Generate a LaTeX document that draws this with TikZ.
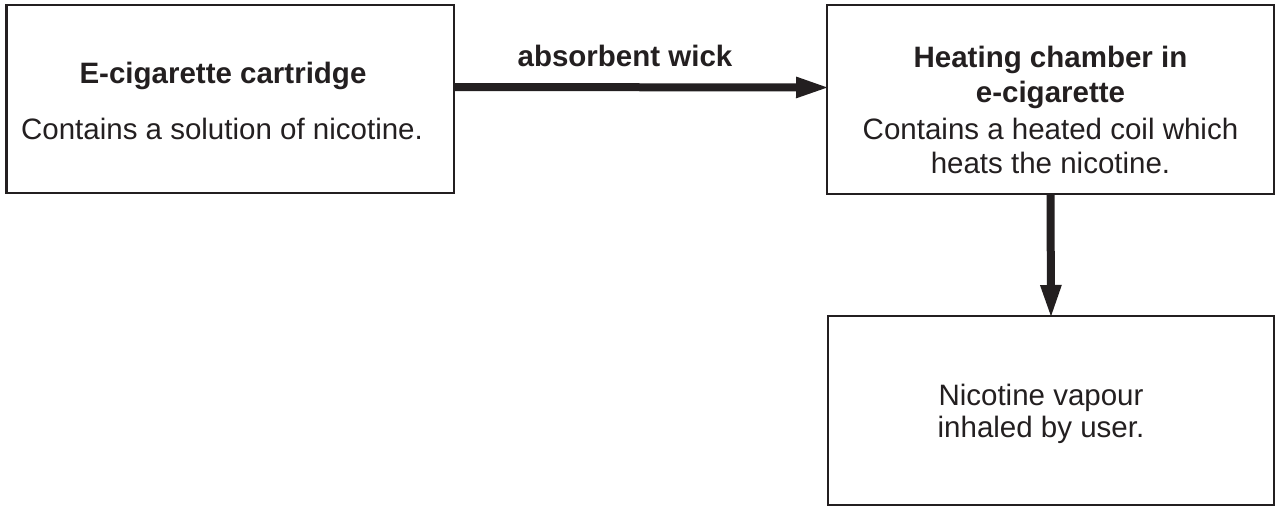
\documentclass[tikz,border=0pt]{standalone}
\usepackage{fontspec}
\setmainfont{Liberation Sans}
\usetikzlibrary{arrows.meta}
\definecolor{ink}{HTML}{231F20}
\tikzset{
  box/.style={draw=ink, line width=2.2pt, rectangle, inner sep=0pt, outer sep=0pt},
  txt/.style={anchor=base, inner sep=0pt, text=ink, font=\fontsize{29.5}{35}\selectfont},
  btxt/.style={txt, font=\fontsize{29.5}{35}\selectfont\bfseries},
  flow/.style={draw=ink, line width=8pt, shorten >=-3pt, -{Triangle[length=34pt 0,width=19pt 0]}}
}
\begin{document}
\begin{tikzpicture}[x=1pt,y=-1pt]
\useasboundingbox (0,0) rectangle (1276,506);
% boxes
\node[box, minimum width=447.5pt, minimum height=188pt] (cart) at (230.25,99) {};
\node[box, minimum width=447pt, minimum height=189pt] (heat) at (1050.5,99.5) {};
\node[box, minimum width=446pt, minimum height=189pt] (vap) at (1051,410.5) {};
% texts
\node[btxt] (t1) at (223,83) {E-cigarette cartridge};
\node[txt] (t2) at (222,139) {Contains a solution of nicotine.};
\node[btxt] (h1) at (1050.5,67) {Heating chamber in};
\node[btxt] (h2) at (1050.5,102) {e-cigarette};
\node[txt] (h3) at (1050.5,139) {Contains a heated coil which};
\node[txt] (h4) at (1050.5,173) {heats the nicotine.};
\node[txt] (v1) at (1041,405) {Nicotine vapour};
\node[txt] (v2) at (1041,437) {inhaled by user.};
\node[btxt] (lab) at (625,66) {absorbent wick};
% connectors
\draw[flow] ([yshift=12pt]cart.east) -- ([yshift=12pt]heat.west);
\draw[flow] (heat.south) -- (vap.north);
\end{tikzpicture}
\end{document}
